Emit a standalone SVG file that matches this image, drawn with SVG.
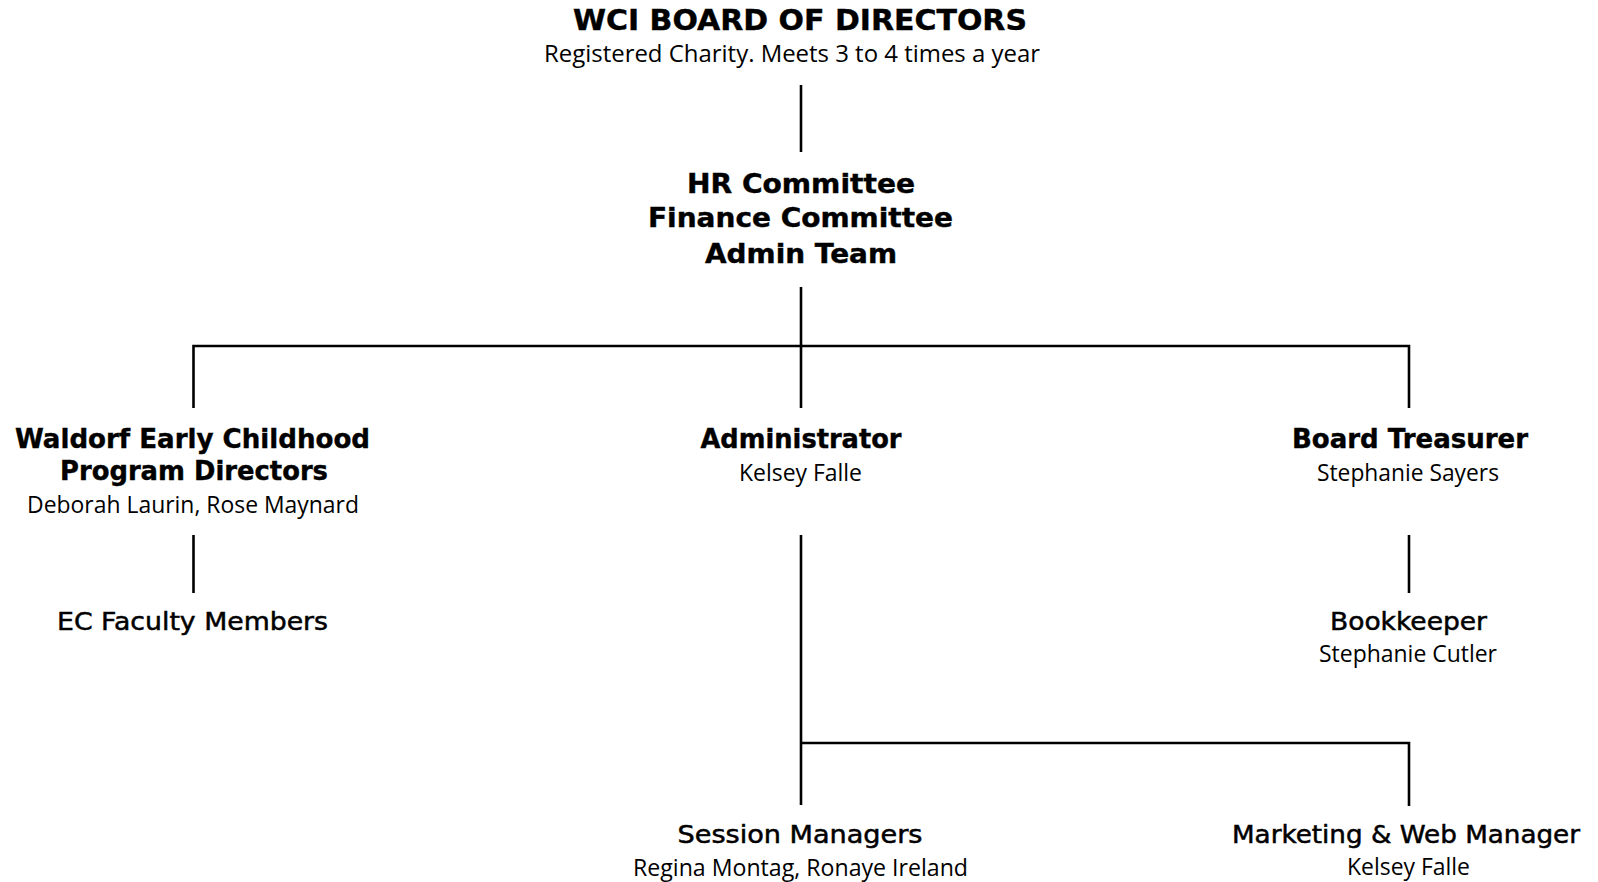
<svg xmlns="http://www.w3.org/2000/svg" width="1598" height="882" viewBox="0 0 1598 882">
  <style>
    .bg { fill: #ffffff; }
    .h { font-family: "DejaVu Sans", "Liberation Sans", sans-serif; font-weight: bold; font-size: 26px; fill: #000; stroke: #000; stroke-width: 0.4; text-anchor: middle; }
    .t { font-size: 28px; }
    .m { font-family: "DejaVu Sans", "Liberation Sans", sans-serif; font-weight: normal; font-size: 24px; fill: #000; stroke: #000; stroke-width: 0.5; text-anchor: middle; }
    .s { font-family: "Open Sans", "Liberation Sans", sans-serif; font-weight: normal; font-size: 23px; fill: #000; text-anchor: middle; }
    .ln { fill: none; stroke: #000; stroke-width: 2.6; stroke-linecap: butt; }
  </style>
  <rect class="bg" x="0" y="0" width="1598" height="882"/>

  <g id="connectors">
    <path class="ln" d="M801 85 V152"/>
    <path class="ln" d="M801 287 V408"/>
    <path class="ln" d="M193.5 408 V346 H1409 V408"/>
    <path class="ln" d="M193.5 535 V593"/>
    <path class="ln" d="M1409 535 V593"/>
    <path class="ln" d="M801 535 V805"/>
    <path class="ln" d="M801 743 H1409 V806"/>
  </g>

  <g id="board">
    <text class="h t" x="800" y="30" textLength="454" lengthAdjust="spacingAndGlyphs">WCI BOARD OF DIRECTORS</text>
    <text class="s" x="792" y="62" textLength="496" lengthAdjust="spacingAndGlyphs">Registered Charity. Meets 3 to 4 times a year</text>
  </g>

  <g id="committees">
    <text class="h" x="801" y="193" textLength="228" lengthAdjust="spacingAndGlyphs">HR Committee</text>
    <text class="h" x="800.5" y="227" textLength="305" lengthAdjust="spacingAndGlyphs">Finance Committee</text>
    <text class="h" x="801" y="263" textLength="192" lengthAdjust="spacingAndGlyphs">Admin Team</text>
  </g>

  <g id="program-directors">
    <text class="h" x="192.5" y="447.5" textLength="355" lengthAdjust="spacingAndGlyphs">Waldorf Early Childhood</text>
    <text class="h" x="194" y="480" textLength="268" lengthAdjust="spacingAndGlyphs">Program Directors</text>
    <text class="s" x="193" y="513" textLength="332" lengthAdjust="spacingAndGlyphs">Deborah Laurin, Rose Maynard</text>
  </g>

  <g id="ec-faculty">
    <text class="m" x="192.5" y="630" textLength="271" lengthAdjust="spacingAndGlyphs">EC Faculty Members</text>
  </g>

  <g id="administrator">
    <text class="h" x="801" y="448" textLength="201" lengthAdjust="spacingAndGlyphs">Administrator</text>
    <text class="s" x="800.5" y="481" textLength="123" lengthAdjust="spacingAndGlyphs">Kelsey Falle</text>
  </g>

  <g id="treasurer">
    <text class="h" x="1410" y="448" textLength="236" lengthAdjust="spacingAndGlyphs">Board Treasurer</text>
    <text class="s" x="1408" y="481" textLength="182" lengthAdjust="spacingAndGlyphs">Stephanie Sayers</text>
  </g>

  <g id="bookkeeper">
    <text class="m" x="1408.5" y="630" textLength="157" lengthAdjust="spacingAndGlyphs">Bookkeeper</text>
    <text class="s" x="1408" y="662" textLength="178" lengthAdjust="spacingAndGlyphs">Stephanie Cutler</text>
  </g>

  <g id="session-managers">
    <text class="m" x="800" y="843" textLength="245" lengthAdjust="spacingAndGlyphs">Session Managers</text>
    <text class="s" x="800.5" y="876" textLength="335" lengthAdjust="spacingAndGlyphs">Regina Montag, Ronaye Ireland</text>
  </g>

  <g id="marketing">
    <text class="m" x="1406" y="843" textLength="348" lengthAdjust="spacingAndGlyphs">Marketing &amp; Web Manager</text>
    <text class="s" x="1408.5" y="875" textLength="123" lengthAdjust="spacingAndGlyphs">Kelsey Falle</text>
  </g>
</svg>
